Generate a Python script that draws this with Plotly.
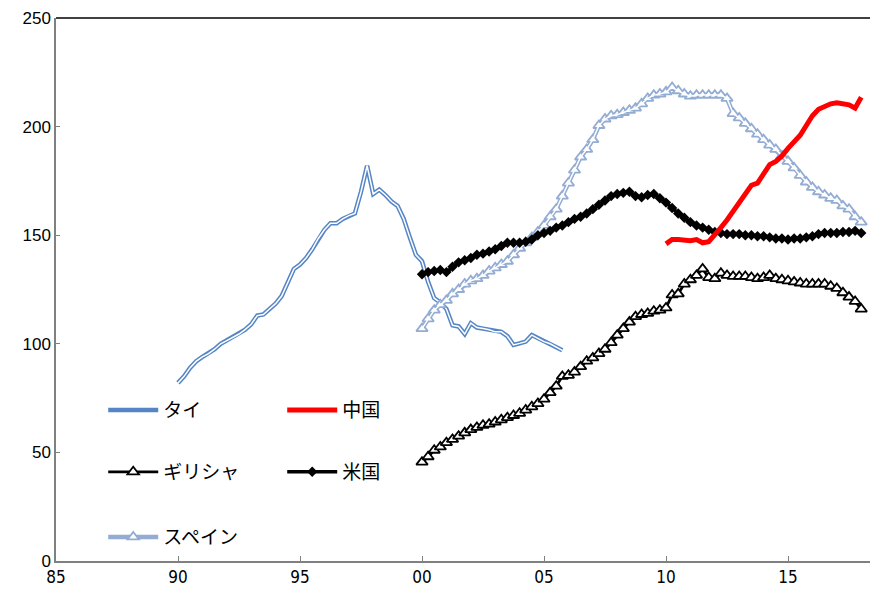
import plotly.graph_objects as go

# Quarterly index series (quarter start expressed as fractional year)
thai_start = 1990.0
thai = [82, 85, 89, 92, 94, 95.5, 97.5, 100, 101.5, 103, 104.5, 106.5, 109, 113, 113.5, 116,
        118.5, 122, 128, 134.5, 136.5, 139.5, 143.5, 148.5, 152.5, 155.5, 155.5, 157.5, 159, 160, 170, 182,
        169, 171, 168.5, 165.5, 163.5, 157.5, 149, 141, 138, 128.5, 121, 119, 116, 108.5, 108, 104.5,
        109.5, 107.5, 107, 106.5, 105.5, 105.5, 103.5, 99.5, 100.2, 101, 104, 102.5, 101, 100, 98.5, 97]

china_start = 2010.0
china = [146, 148, 148, 147.5, 147.5, 148, 146.5, 147, 150, 153.5, 157, 161, 166, 170, 173, 174,
         178.5, 182.5, 184, 186.5, 190, 193, 196, 200.5, 205, 208, 209.5, 210.5, 211, 210.5, 210, 208.5, 213.5]

greece_start = 2000.0
greece = [45.5, 48, 51, 52.5, 54.5, 56, 57.5, 59, 60.5, 61.5, 62.5, 63, 64, 65, 66, 67,
          68, 69.5, 71, 72.5, 74.5, 77.5, 80.5, 85, 85.5, 87, 89.5, 92, 93.5, 95.5, 97.5, 100.5,
          104, 107, 110, 112.5, 113.5, 114, 115, 115.5, 116.5, 122.5, 123, 127.5, 129.5, 131.5, 134.5, 130.5,
          130, 132.5, 131.5, 131, 131, 131, 130.5, 130, 130.5, 131.5, 130, 129.5, 129, 128.5, 128, 127.5,
          127.5, 127.5, 127.5, 126.5, 125.5, 123.5, 121.5, 119.5, 116]

usa_start = 2000.0
usa = [132, 133, 133.5, 134, 133, 135.5, 137.5, 138.5, 139.5, 141, 141.5, 142.5, 143.5, 145, 146.5, 146.5,
       146.5, 147, 148, 150, 151, 152, 153.5, 154.5, 156, 157.5, 158.5, 160, 162, 164, 166, 168,
       169, 169.5, 170, 168, 167.5, 168.5, 169, 167, 165, 162.5, 160, 158, 156, 154.5, 153.5, 152.5,
       151.5, 151, 150.5, 150.5, 150.5, 150, 150, 149.5, 149.5, 149, 148.5, 148.5, 148, 148.5, 148.5, 149,
       149.5, 150.5, 151, 151, 151, 151.5, 151.5, 152, 151]

spain_start = 2000.0
spain = [107, 111.5, 115.5, 118, 120, 123, 125, 127.5, 129, 130, 131.5, 133.5, 135, 136.5, 138, 141,
         144, 146.5, 149, 151.5, 154.5, 158.5, 162, 168, 174, 180, 186, 189.5, 194, 200.5, 203.5, 205,
         205.5, 206.5, 207.5, 208.5, 210.5, 213, 214.5, 215, 216, 218, 216.5, 215, 214, 214.5, 214.5, 214.5,
         214.5, 214.5, 213, 206, 204, 201.5, 199, 196.5, 194, 191.5, 189.5, 186.5, 184, 181, 177.5, 174.5,
         172, 170, 168.5, 167, 166, 163.5, 162, 158.5, 156]

x_tickvals = [1985, 1990, 1995, 2000, 2005, 2010, 2015]
x_ticktext = ["85", "90", "95", "00", "05", "10", "15"]
y_tickvals = [0, 50, 100, 150, 200, 250]


def quarters(start, values):
    return [start + 0.25 * i for i in range(len(values))]


THAI_BLUE = "#5585C5"
SPAIN_BLUE = "#93ACD3"
JP_FONT = "Noto Sans CJK JP"

fig = go.Figure()

# Thailand: double line (coloured band with a white core)
fig.add_trace(go.Scatter(x=quarters(thai_start, thai), y=thai, mode="lines", name="タイ",
                         line=dict(color=THAI_BLUE, width=4.5), legend="legend"))
fig.add_trace(go.Scatter(x=quarters(thai_start, thai), y=thai, mode="lines", showlegend=False,
                         line=dict(color="white", width=1.5), hoverinfo="skip"))

# Greece: black line with open triangles
fig.add_trace(go.Scatter(x=quarters(greece_start, greece), y=greece, mode="lines+markers", name="ギリシャ",
                         line=dict(color="black", width=2.8),
                         marker=dict(symbol="triangle-up", size=10, color="white",
                                     line=dict(color="black", width=1.8)),
                         legend="legend2"))

# Spain: light-blue double line with open triangles
fig.add_trace(go.Scatter(x=quarters(spain_start, spain), y=spain, mode="lines+markers", name="スペイン",
                         line=dict(color=SPAIN_BLUE, width=4.5),
                         marker=dict(symbol="triangle-up", size=10, color="white",
                                     line=dict(color=SPAIN_BLUE, width=1.8)),
                         legend="legend3"))
fig.add_trace(go.Scatter(x=quarters(spain_start, spain), y=spain, mode="lines", showlegend=False,
                         line=dict(color="white", width=1.5), hoverinfo="skip"))

# United States: black line with diamonds
fig.add_trace(go.Scatter(x=quarters(usa_start, usa), y=usa, mode="lines+markers", name="米国",
                         line=dict(color="black", width=3.5),
                         marker=dict(symbol="diamond", size=8, color="black"),
                         legend="legend2"))

# China: thick red line
fig.add_trace(go.Scatter(x=quarters(china_start, china), y=china, mode="lines", name="中国",
                         line=dict(color="#FF0000", width=5), legend="legend"))

legend_common = dict(orientation="h", xanchor="left", yanchor="middle",
                     font=dict(family=JP_FONT, size=19, color="black"),
                     bgcolor="rgba(0,0,0,0)", entrywidth=114, entrywidthmode="pixels",
                     itemwidth=50, traceorder="normal")

fig.update_layout(
    width=874, height=591,
    margin=dict(l=56, r=4, t=18, b=30),
    paper_bgcolor="white", plot_bgcolor="white",
    font=dict(family="Liberation Sans", size=17, color="black"),
    xaxis=dict(range=[1985, 2018.36], tickvals=x_tickvals, ticktext=x_ticktext,
               showgrid=False, zeroline=False, showline=True, linecolor="#808080", linewidth=1.5,
               ticks="inside", ticklen=5, tickcolor="#808080", tickwidth=1,
               tickfont=dict(family="DejaVu Sans Condensed, Liberation Sans Narrow, Liberation Sans", size=17)),
    yaxis=dict(range=[0, 250], tickvals=y_tickvals,
               showgrid=False, zeroline=False, showline=True, linecolor="#808080", linewidth=1.5,
               ticks="inside", ticklen=4, tickcolor="#808080", tickwidth=1,
               tickfont=dict(size=17)),
    legend=dict(x=0.058, y=0.278, **legend_common),
    legend2=dict(x=0.058, y=0.164, **legend_common),
    legend3=dict(x=0.058, y=0.044, **legend_common),
    shapes=[dict(type="line", xref="paper", yref="paper", x0=0, x1=1, y0=1, y1=1,
                 line=dict(color="black", width=1.5))],
)

fig.write_html("out.html")
